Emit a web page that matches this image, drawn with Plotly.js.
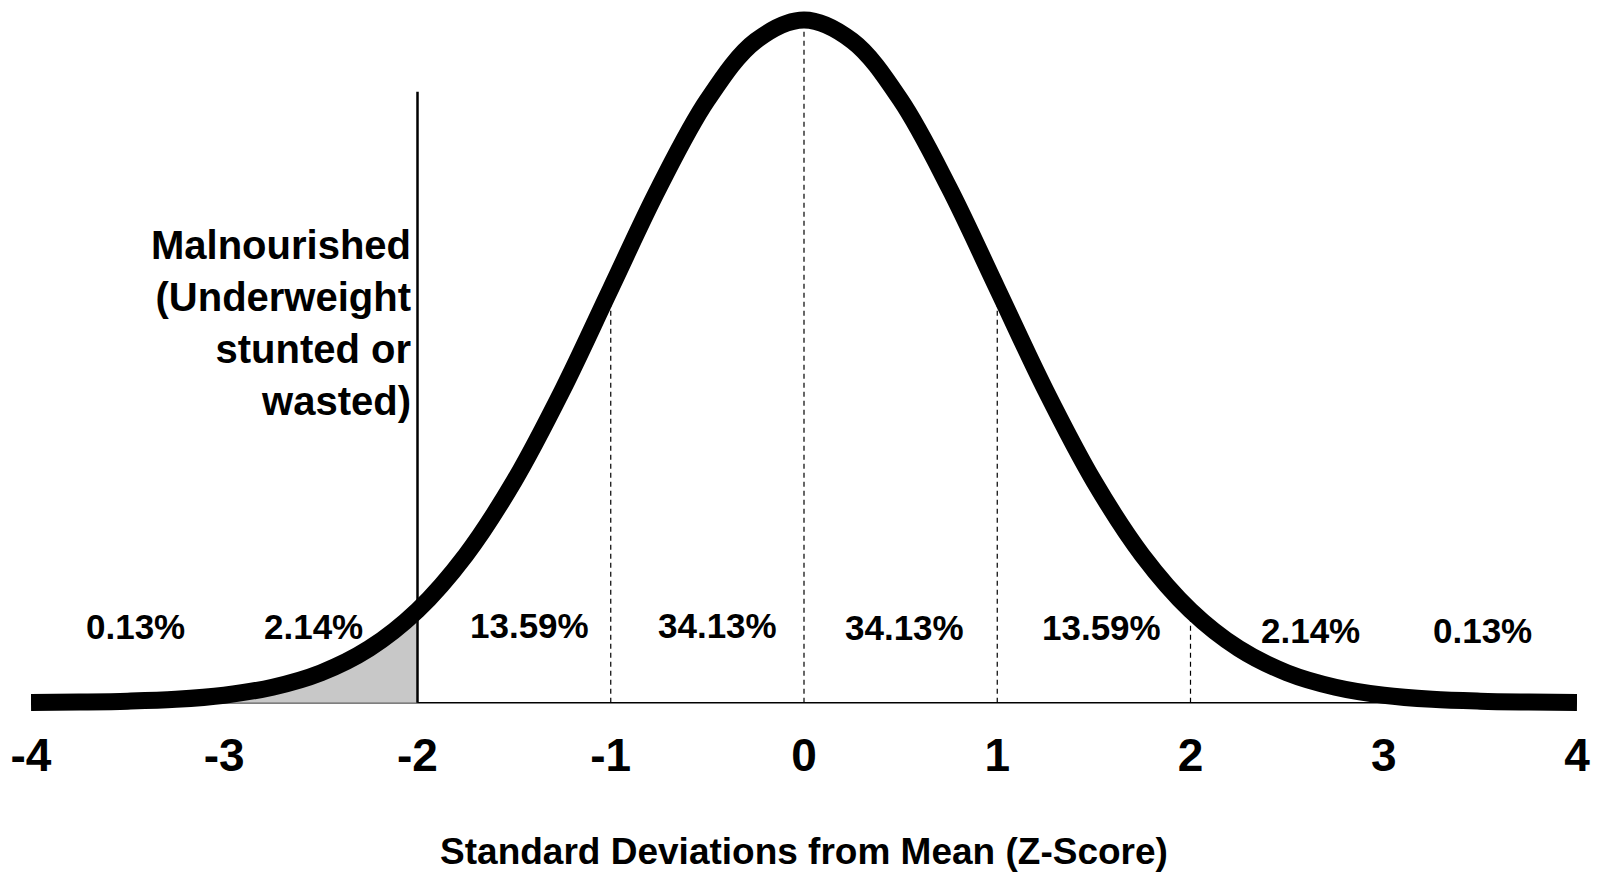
<!DOCTYPE html>
<html><head><meta charset="utf-8">
<script src="https://cdn.plot.ly/plotly-3.0.1.min.js"></script>
<style>html,body{margin:0;padding:0;background:#fff;} #chart{width:1598px;height:874px;}</style>
</head><body><div id="chart"></div>
<script>
// ---- data ----
const zScores = [-4,-3.75,-3.5,-3.25,-3,-2.75,-2.5,-2.25,-2,-1.75,-1.5,-1.25,-1,-0.75,-0.5,-0.25,0,
                 0.25,0.5,0.75,1,1.25,1.5,1.75,2,2.25,2.5,2.75,3,3.25,3.5,3.75,4];
const density = [0.0001,0.0004,0.0009,0.0020,0.0044,0.0091,0.0175,0.0317,0.0540,0.0863,0.1295,0.1826,0.2420,0.3011,0.3521,0.3867,0.3989,
                 0.3867,0.3521,0.3011,0.2420,0.1826,0.1295,0.0863,0.0540,0.0317,0.0175,0.0091,0.0044,0.0020,0.0009,0.0004,0.0001];
const tickValues = [-4,-3,-2,-1,0,1,2,3,4];
const tickLabels = ['-4','-3','-2','-1','0','1','2','3','4'];
const bandShares = ['0.13%','2.14%','13.59%','34.13%','34.13%','13.59%','2.14%','0.13%'];
const sdLines = [-1,0,1,2];
const cutoff = -2;
const cutoffLabel = 'Malnourished<br>(Underweight<br>stunted or<br>wasted)';
const axisTitle = 'Standard Deviations from Mean (Z-Score)';

// ---- layout positions (not data) ----
const bandLabelX = [-3.46,-2.54,-1.42,-0.45,0.52,1.54,2.62,3.51];
const bandLabelY = [0.0444,0.0444,0.0450,0.0450,0.0438,0.0438,0.0420,0.0420];
const cutoffTop = 0.357;

const shadeX = zScores.filter(z => z <= cutoff);
const shadeY = density.slice(0, shadeX.length);

const boldFont = 'Liberation Sans, Arial, Helvetica, sans-serif';

const traces = [
  {x: shadeX, y: shadeY, type: 'scatter', mode: 'lines', fill: 'tozeroy',
   fillcolor: '#c8c8c8', line: {width: 0, shape: 'spline'}, hoverinfo: 'skip', showlegend: false},
  {x: zScores, y: density, type: 'scatter', mode: 'lines',
   line: {color: '#000', width: 17, shape: 'spline', smoothing: 1}, hoverinfo: 'skip', showlegend: false}
];

const shapes = [
  {type: 'line', xref: 'x', yref: 'y', x0: -4, x1: 4, y0: 0, y1: 0, line: {color: '#000', width: 1.5}, layer: 'below'},
  {type: 'line', xref: 'x', yref: 'y', x0: cutoff, x1: cutoff, y0: 0, y1: cutoffTop, line: {color: '#000', width: 2.5}}
];
sdLines.forEach(z => {
  const i = zScores.indexOf(z);
  shapes.push({type: 'line', xref: 'x', yref: 'y', x0: z, x1: z, y0: 0, y1: density[i],
               line: {color: '#000', width: 1.2, dash: '5px,4px'}, layer: 'below'});
});

const annotations = bandShares.map((t, i) => ({
  x: bandLabelX[i], y: bandLabelY[i], xref: 'x', yref: 'y', text: t, showarrow: false,
  font: {family: boldFont, size: 35, weight: 700, color: '#000'}
}));
annotations.push({
  x: cutoff, y: 0.222, xref: 'x', yref: 'y', text: cutoffLabel, showarrow: false,
  xanchor: 'right', yanchor: 'middle', align: 'right', xshift: -5,
  font: {family: boldFont, size: 40, weight: 700, color: '#000'}
});

const layout = {
  width: 1598, height: 874,
  margin: {l: 31, r: 21, t: 1, b: 161},
  paper_bgcolor: '#fff', plot_bgcolor: '#fff',
  showlegend: false,
  xaxis: {
    range: [-4, 4], showgrid: false, zeroline: false, showline: false, ticks: '',
    tickmode: 'array', tickvals: tickValues, ticktext: tickLabels,
    ticklabelstandoff: 11,
    tickfont: {family: boldFont, size: 46, weight: 700, color: '#000'},
    automargin: false,
    title: {text: axisTitle, standoff: 58, font: {family: boldFont, size: 37, weight: 700, color: '#000'}}
  },
  yaxis: {range: [-0.006, 0.41], visible: false, showgrid: false, zeroline: false, automargin: false},
  shapes: shapes,
  annotations: annotations
};

Plotly.newPlot('chart', traces, layout, {displayModeBar: false, staticPlot: true});
</script>
</body></html>
